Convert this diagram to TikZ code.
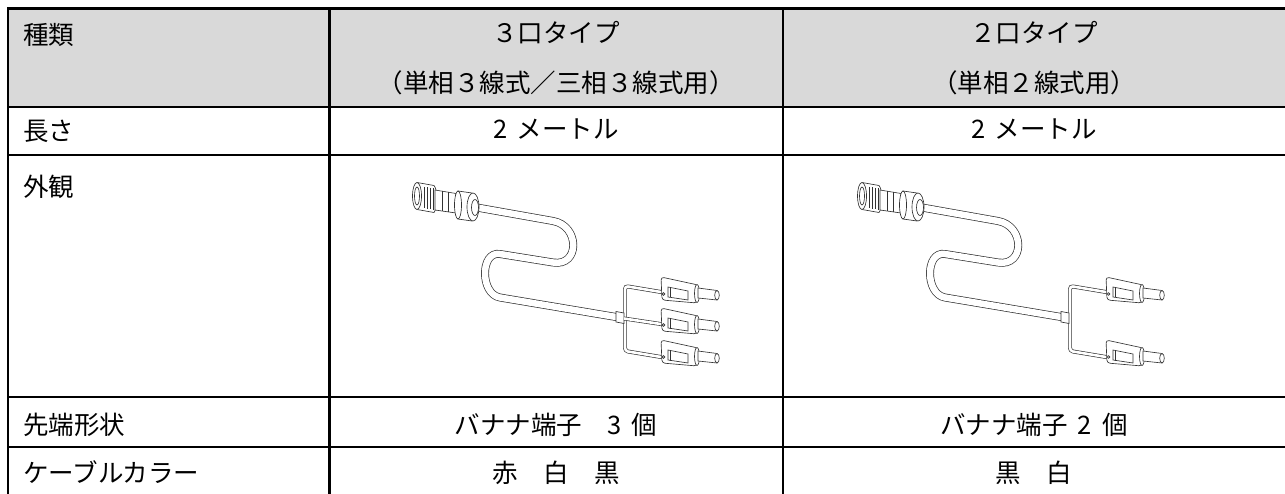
\documentclass[tikz,border=0pt]{standalone}
\usepackage{fontspec}
\setmainfont{Noto Sans CJK JP}

\begin{document}
\begin{tikzpicture}[x=1pt,y=-1pt]
            \tikzstyle{every node}+=[inner sep=0pt]
            \tikzstyle{cell}=[font=\fontsize{25.5}{30}\selectfont, text height=22pt, text depth=3pt]
            \tikzstyle{tblline}=[line width=2.6pt]
            \tikzstyle{art}=[draw=black!80, line width=0.65pt]
            \tikzstyle{cablepath}=[draw=black!80, line width=0.7pt, double=white, double distance=6.5pt]
            \tikzstyle{wire}=[draw=black!80, line width=0.65pt, double=white, double distance=2.6pt, rounded corners=3pt]
            \useasboundingbox (0,0) rectangle (1285,494);
            % table
            \fill [black!15] (8,8.7) rectangle (1285,107);
            \draw [tblline] (1285,8.7) -- (8,8.7) -- (8,494);
            \draw [tblline] (329.5,8.7) -- (329.5,494);
            \draw [tblline] (783,8.7) -- (783,494);
            \draw [tblline] (8,107) -- (1285,107);
            \draw [tblline] (8,155) -- (1285,155);
            \draw [tblline] (8,397) -- (1285,397);
            \draw [tblline] (8,447) -- (1285,447);
            % first column
            \node [cell, anchor=west] (kind) at (23,35) {種類};
            \node [cell, anchor=west] (len) at (23,131) {長さ};
            \node [cell, anchor=west] (look) at (23,187) {外観};
            \node [cell, anchor=west] (tip) at (23,425) {先端形状};
            \node [cell, anchor=west] (color) at (23,473) {ケーブルカラー};
            % 3 plug type
            \node [cell] (typeA) at (556,33) {３口タイプ};
            \node [cell] (useA) at (556,83) {（単相３線式／三相３線式用）};
            \node [cell] (lenA) at (556,129) {2\hspace{.35em}メートル};
            \node [cell] (tipA) at (556,425) {バナナ端子　3\hspace{.4em}個};
            \node [cell] (colA) at (556,473) {赤　白　黒};
            % 2 plug type
            \node [cell] (typeB) at (1034,33) {２口タイプ};
            \node [cell] (useB) at (1034,83) {（単相２線式用）};
            \node [cell] (lenB) at (1034,129) {2\hspace{.35em}メートル};
            \node [cell] (tipB) at (1034,425) {バナナ端子\hspace{.4em}2\hspace{.4em}個};
            \node [cell] (colB) at (1034,473) {黒　白};
            % cable drawings
            \foreach \dx/\ys in {0/{289,320,352},445/{289,352}} {
              \begin{scope}[xshift=\dx]
                \draw [cablepath] (477,207.5) -- (553,221) .. controls (580,225.8) and (580,266.8) .. (553,262.5)
                  -- (500,254) .. controls (480,250.8) and (480,294.2) .. (500,297.5) -- (619,317.5);
                % connector
                \draw [art, fill=white] (417,182.5) -- (434,185.5) .. controls (438,190) and (438,208) .. (434,212.5) -- (417,209.5) -- cycle;
                \draw [art, fill=white] (417,196) ellipse [x radius=4.5, y radius=13.5];
                \draw [art] (417,196) ellipse [x radius=2.5, y radius=9];
                \draw [art] (424,187) -- (424,208);
                \draw [art] (427,187.5) -- (427,209);
                \draw [art] (430,188) -- (430,209.5);
                \draw [art] (433,188.5) -- (433,210);
                \draw [art, fill=white] (435,190) -- (456,193.5) -- (456,213) -- (435,210) -- cycle;
                \draw [art] (442,191) -- (442,211);
                \draw [art] (448,192) -- (448,212);
                \draw [art, fill=white] (458,191) -- (472,193) -- (472,221) -- (458,219) -- cycle;
                \draw [art, fill=white] (458,205) ellipse [x radius=3.5, y radius=14];
                \draw [art, fill=white] (473,207) ellipse [x radius=6, y radius=14];
                \draw [art] (475,207.5) ellipse [x radius=3.5, y radius=8];
                % split
                \draw [wire] (664,292.5) -- (625,286) -- (625,351) -- (664,357.5);
                \draw [art, fill=white] (616,311.5) -- (624,313) -- (624,323.5) -- (616,322) -- cycle;
                % plugs
                \foreach \y in \ys {
                  \ifnum\y=320 \draw [wire] (624,318.5) -- (664,324.5); \fi
                  \begin{scope}[shift={(660,\y)}]
                    \draw [art, fill=white, rounded corners=3pt] (1,-12) -- (38,-4) -- (37,14) -- (2,11) -- cycle;
                    \draw [art] (8,-2) -- (28,2) -- (28,11) -- (8,8) -- cycle;
                    \draw [art] (10,-1.5) -- (10,8.5);
                    \draw [art] (3.5,5) circle (1.3);
                    \draw [art, fill=white] (37,4.5) ellipse [x radius=2.5, y radius=9];
                    \draw [art, fill=white] (38,-1) -- (57,1.5) -- (57,11) -- (38,9) -- cycle;
                    \draw [art, fill=white] (57,6.25) ellipse [x radius=2.3, y radius=4.75];
                  \end{scope}
                }
              \end{scope}
            }
        \end{tikzpicture}
\end{document}
